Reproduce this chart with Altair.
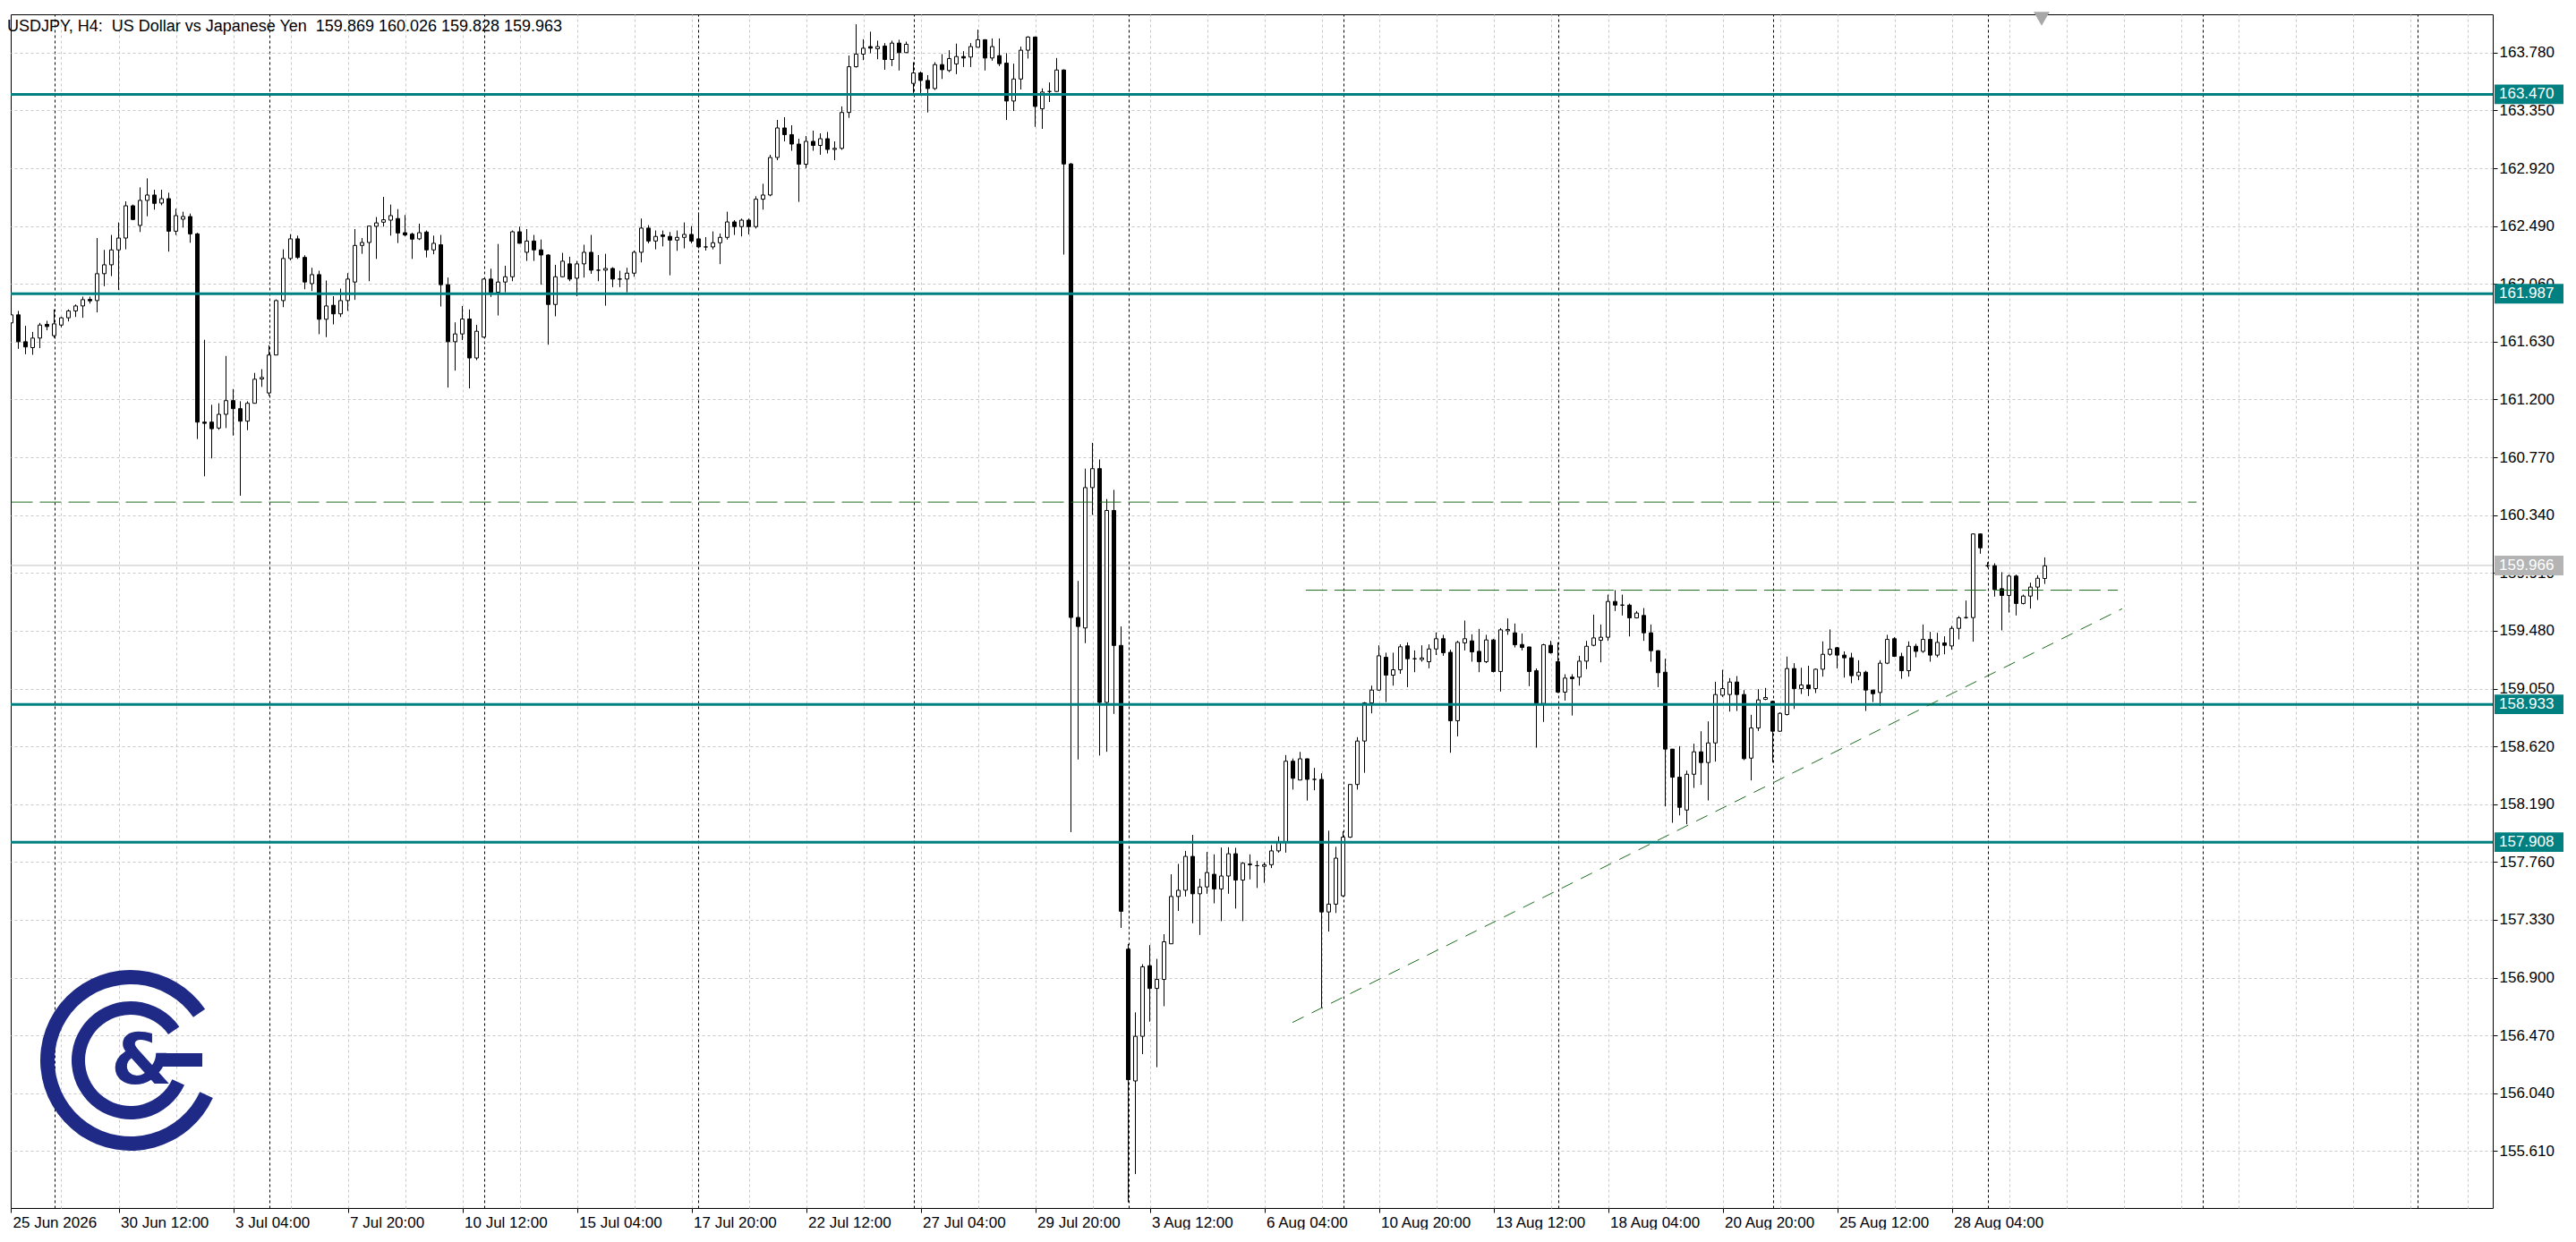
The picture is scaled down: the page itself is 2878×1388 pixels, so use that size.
import json
import altair as alt
import pandas as pd

# ---------------- data ----------------
opens = [161.770,161.770,161.830,161.630,161.586,161.657,161.759,161.675,161.754,161.808,
161.859,161.896,161.945,161.936,162.136,162.202,162.313,162.401,162.641,162.495,
162.681,162.721,162.661,162.694,162.452,162.541,162.561,162.432,161.032,161.032,
160.988,161.090,161.192,161.132,161.039,161.172,161.353,161.249,161.531,161.936,
162.249,162.395,162.257,162.062,162.129,161.797,161.901,161.837,161.936,162.074,
162.346,162.368,162.488,162.519,162.534,162.546,162.441,162.430,162.395,162.446,
162.313,162.351,162.054,161.630,161.688,161.799,161.509,161.664,162.096,161.998,
162.074,162.113,162.448,162.295,162.379,162.313,162.275,161.907,162.113,162.209,
162.102,162.209,162.295,162.162,162.162,162.175,162.096,162.096,162.140,162.295,
162.475,162.379,162.424,162.413,162.386,162.406,162.428,162.395,162.335,162.335,
162.366,162.406,162.521,162.486,162.534,162.486,162.690,162.721,163.000,163.220,
163.170,163.100,162.950,163.120,163.090,163.140,163.060,163.068,163.335,163.675,
163.769,163.825,163.809,163.829,163.729,163.851,163.780,163.551,163.629,163.573,
163.513,163.691,163.647,163.696,163.751,163.747,163.820,163.876,163.740,163.758,
163.702,163.420,163.584,163.798,163.896,163.362,163.491,163.491,163.651,162.952,
159.579,159.501,160.545,160.686,158.947,160.375,159.371,157.112,156.132,156.464,
156.989,156.820,156.887,157.152,157.504,157.550,157.802,157.524,157.575,157.669,
157.560,157.656,157.822,157.626,157.745,157.733,157.728,157.740,157.843,157.911,
158.510,158.370,158.528,158.375,158.375,157.389,157.447,157.509,157.945,158.337,
158.660,158.944,159.039,159.283,159.150,159.190,159.368,159.272,159.266,159.250,
159.345,159.421,159.320,158.811,159.390,159.405,159.327,159.250,159.412,159.177,
159.480,159.465,159.378,159.360,159.183,158.939,159.372,159.250,159.024,159.135,
159.135,159.254,159.372,159.410,159.432,159.698,159.671,159.671,159.576,159.594,
159.465,159.332,159.172,158.600,158.391,158.147,158.413,158.580,158.500,158.646,
159.001,159.006,159.099,159.006,158.533,158.757,158.970,158.955,158.733,158.857,
159.199,159.050,159.077,159.050,159.194,159.305,159.354,159.299,159.279,159.146,
159.172,159.039,159.021,159.239,159.421,159.288,159.183,159.365,159.327,159.416,
159.299,159.390,159.367,159.498,159.578,159.578,160.200,159.964,159.964,159.793,
159.743,159.887,159.683,159.738,159.805,159.869]

highs = [161.803,161.852,161.859,161.748,161.703,161.770,161.786,161.870,161.814,161.870,
161.907,161.965,161.965,162.401,162.313,162.424,162.517,162.674,162.650,162.778,
162.845,162.760,162.760,162.738,162.619,162.597,162.583,162.440,161.644,161.161,
161.172,161.524,161.278,161.187,161.187,161.398,161.426,161.604,161.945,162.317,
162.430,162.419,162.273,162.180,162.158,162.085,161.969,162.025,162.140,162.468,
162.401,162.490,162.557,162.707,162.650,162.616,162.572,162.441,162.508,162.457,
162.419,162.424,162.107,161.774,161.896,161.870,161.755,162.102,162.173,162.357,
162.195,162.457,162.486,162.468,162.424,162.390,162.280,162.202,162.291,162.262,
162.231,162.351,162.424,162.275,162.284,162.184,162.158,162.180,162.308,162.546,
162.497,162.457,162.457,162.446,162.457,162.517,162.490,162.590,162.408,162.450,
162.435,162.597,162.534,162.546,162.546,162.712,162.805,163.020,163.280,163.300,
163.240,163.140,163.160,163.200,163.180,163.190,163.120,163.380,163.758,163.991,
163.880,163.936,163.869,163.851,163.869,163.876,163.862,163.709,163.640,163.613,
163.709,163.769,163.798,163.847,163.791,163.851,163.951,163.880,163.885,163.885,
163.776,163.698,163.825,163.902,163.900,163.514,163.558,163.740,163.655,162.960,
159.851,160.686,160.878,160.754,160.460,160.528,159.512,157.150,156.642,157.000,
157.142,157.040,157.223,157.669,157.746,157.843,157.962,157.636,157.835,157.817,
157.868,157.870,157.866,157.760,157.817,157.770,157.758,157.886,157.950,158.556,
158.530,158.579,158.530,158.460,158.420,157.993,157.873,157.988,158.340,158.689,
158.950,159.072,159.372,159.317,159.317,159.379,159.394,159.334,159.372,159.379,
159.467,159.450,159.339,159.405,159.556,159.454,159.494,159.450,159.420,159.500,
159.572,159.534,159.460,159.360,159.200,159.383,159.405,159.394,159.157,159.157,
159.294,159.405,159.600,159.527,159.749,159.782,159.749,159.682,159.627,159.649,
159.527,159.335,159.272,158.600,158.622,158.440,158.640,158.733,158.806,159.101,
159.190,159.128,159.143,159.039,158.855,159.046,159.055,158.960,158.873,159.288,
159.239,159.205,159.220,159.200,159.401,159.490,159.360,159.327,159.316,159.261,
159.183,159.040,159.261,159.450,159.432,159.316,159.401,159.383,159.527,159.472,
159.465,159.439,159.516,159.589,159.705,160.204,160.204,159.990,159.982,159.916,
159.898,159.898,159.749,159.838,159.893,160.026]

lows = [161.748,161.670,161.577,161.537,161.533,161.582,161.715,161.659,161.737,161.781,
161.814,161.808,161.914,161.848,162.043,162.118,162.014,162.317,162.534,162.446,
162.563,162.612,162.645,162.300,162.424,162.479,162.366,160.906,160.629,160.762,
160.975,160.988,160.932,160.485,160.972,161.170,161.294,161.227,161.530,161.887,
162.235,162.246,162.020,162.007,161.686,161.664,161.759,161.814,161.859,161.941,
162.284,162.080,162.246,162.486,162.419,162.364,162.413,162.246,162.386,162.257,
162.280,161.892,161.289,161.415,161.642,161.283,161.493,161.660,161.963,161.825,
161.998,162.080,162.360,162.231,162.231,162.054,161.608,161.819,162.110,162.080,
161.969,162.107,162.135,162.080,161.898,162.036,162.036,161.998,162.113,162.220,
162.362,162.317,162.339,162.124,162.306,162.324,162.362,162.324,162.308,162.317,
162.207,162.390,162.424,162.413,162.428,162.472,162.612,162.712,162.980,163.120,
163.050,162.670,162.920,163.050,163.020,163.030,162.980,163.057,163.295,163.669,
163.724,163.776,163.731,163.653,163.680,163.647,163.778,163.480,163.480,163.335,
163.502,163.584,163.635,163.620,163.673,163.673,163.818,163.647,163.720,163.680,
163.279,163.346,163.506,163.736,163.228,163.213,163.413,163.488,162.278,157.983,
158.523,159.388,160.342,158.552,158.580,158.862,157.270,155.230,155.439,156.331,
156.573,156.234,156.688,157.150,157.396,157.504,157.305,157.218,157.524,157.453,
157.320,157.524,157.414,157.320,157.631,157.567,157.605,157.715,157.830,157.830,
158.299,158.370,158.217,158.294,156.675,157.243,157.381,157.500,157.940,158.299,
158.424,158.866,159.035,158.950,159.072,159.160,159.061,159.172,159.250,159.201,
159.300,159.294,158.573,158.695,159.334,159.250,159.172,159.240,159.170,159.028,
159.450,159.356,159.334,159.068,158.611,158.802,159.310,159.017,158.961,158.850,
159.072,159.195,159.365,159.245,159.405,159.627,159.594,159.438,159.572,159.405,
159.250,159.061,158.174,158.052,158.107,158.041,158.311,158.334,158.218,158.507,
158.988,158.879,158.884,158.518,158.367,158.735,158.965,158.500,158.728,158.850,
158.899,159.010,158.995,159.017,159.139,159.294,159.200,159.132,159.090,159.112,
158.884,158.950,158.921,159.232,159.285,159.123,159.139,159.283,159.316,159.250,
159.283,159.305,159.339,159.416,159.570,159.399,160.053,159.950,159.734,159.483,
159.616,159.594,159.676,159.645,159.709,159.828]

closes = [161.775,161.830,161.630,161.591,161.657,161.754,161.743,161.763,161.808,161.859,
161.896,161.943,161.934,162.136,162.202,162.313,162.401,162.641,162.539,162.681,
162.721,162.659,162.694,162.452,162.568,162.561,162.432,161.032,161.023,160.983,
161.090,161.192,161.132,161.039,161.172,161.351,161.364,161.531,161.936,162.249,
162.395,162.257,162.074,162.129,161.797,161.896,161.837,161.936,162.096,162.346,
162.368,162.490,162.514,162.537,162.568,162.439,162.424,162.393,162.441,162.313,
162.362,162.054,161.630,161.688,161.799,161.509,161.708,162.096,161.998,162.074,
162.113,162.448,162.362,162.379,162.313,162.275,161.907,162.113,162.229,162.096,
162.209,162.295,162.162,162.162,162.175,162.096,162.096,162.140,162.295,162.475,
162.379,162.413,162.413,162.386,162.406,162.428,162.379,162.335,162.335,162.366,
162.406,162.521,162.486,162.534,162.486,162.690,162.721,163.000,163.220,163.170,
163.100,162.950,163.120,163.090,163.140,163.060,163.068,163.335,163.675,163.769,
163.813,163.813,163.825,163.729,163.851,163.780,163.842,163.629,163.573,163.513,
163.691,163.653,163.736,163.751,163.740,163.825,163.876,163.740,163.825,163.698,
163.420,163.584,163.798,163.896,163.380,163.487,163.491,163.651,162.952,159.579,
159.512,160.545,160.686,158.947,160.375,159.371,157.394,156.141,156.464,156.981,
156.820,156.887,157.167,157.504,157.550,157.802,157.524,157.575,157.682,157.560,
157.656,157.822,157.626,157.751,157.740,157.733,157.740,157.843,157.911,158.510,
158.383,158.528,158.375,158.375,157.389,157.447,157.789,157.945,158.337,158.660,
158.944,159.039,159.294,159.150,159.190,159.361,159.272,159.272,159.278,159.345,
159.421,159.317,158.811,159.394,159.421,159.323,159.250,159.412,159.177,159.487,
159.490,159.376,159.356,159.177,158.939,159.376,159.317,159.024,159.128,159.124,
159.254,159.365,159.427,159.432,159.698,159.671,159.671,159.576,159.612,159.465,
159.332,159.168,158.600,158.391,158.167,158.413,158.580,158.500,158.646,159.006,
159.050,159.099,159.006,158.529,158.757,158.966,158.984,158.733,158.866,159.199,
159.050,159.077,159.050,159.194,159.305,159.343,159.299,159.279,159.146,159.172,
159.039,159.012,159.239,159.416,159.290,159.183,159.365,159.327,159.416,159.299,
159.394,159.372,159.498,159.576,159.578,160.200,160.097,159.964,159.787,159.743,
159.887,159.683,159.738,159.805,159.871,159.963]

x_labels = ["25 Jun 2026", "30 Jun 12:00", "3 Jul 04:00", "7 Jul 20:00", "10 Jul 12:00",
            "15 Jul 04:00", "17 Jul 20:00", "22 Jul 12:00", "27 Jul 04:00", "29 Jul 20:00",
            "3 Aug 12:00", "6 Aug 04:00", "10 Aug 20:00", "13 Aug 12:00", "18 Aug 04:00",
            "20 Aug 20:00", "25 Aug 12:00", "28 Aug 04:00"]
y_ticks = [155.61, 156.04, 156.47, 156.90, 157.33, 157.76, 158.19, 158.62, 159.05, 159.48,
           159.91, 160.34, 160.77, 161.20, 161.63, 162.06, 162.49, 162.92, 163.35, 163.78]
week_starts = [7, 37, 67, 97, 127, 157, 187, 217, 247, 277, 307, 337]
levels = [163.470, 161.987, 158.933, 157.908]
current_price = 159.966
hline_start = [1.0, 181.8]
hline_end = [306.2, 295.2]
hline_price = [160.437, 159.782]
trend_start = [179.94, 156.567]
trend_end = [295.8, 159.644]
header = "USDJPY, H4:\u00a0\u00a0US Dollar vs Japanese Yen\u00a0\u00a0159.869 160.026 159.828 159.963"

# ---------------- tables ----------------
n = len(opens)
df = pd.DataFrame({"i": list(range(n)), "o": opens, "h": highs, "l": lows, "c": closes})
df["dir"] = ["up" if c >= o else "down" for o, c in zip(opens, closes)]

lvl = pd.DataFrame({"v": levels, "t": [f"{v:.3f}" for v in levels]})
cur = pd.DataFrame({"v": [current_price], "t": [f"{current_price:.3f}"]})
hl = pd.DataFrame({"x": hline_start, "x2": hline_end, "y": hline_price, "y2": hline_price})
tr = pd.DataFrame({"x": [trend_start[0]], "x2": [trend_end[0]],
                   "y": [trend_start[1]], "y2": [trend_end[1]]})
one = pd.DataFrame({"k": [1]})

# ---------------- styling ----------------
W, H = 2773, 1334
FONT = "Liberation Sans"
FS = 17
TEAL = "#008080"
GREEN = "#1f6b1f"
GRID = "#c8c8c8"
NAVY = "#1f2a86"

xs = alt.Scale(domain=[0.9375, 347.5625], nice=False, zero=False)
ys = alt.Scale(domain=[155.187, 164.065], nice=False, zero=False)

yaxis = alt.Axis(orient="right", values=y_ticks, format=".3f", grid=True, gridColor=GRID,
                 gridDash=[3, 3], gridWidth=1, domain=False, ticks=True, tickColor="black",
                 tickSize=5, labelPadding=2, labelFont=FONT, labelFontSize=FS,
                 labelColor="black", title=None, labelOverlap=False, labelFlush=False)

ax_grid = alt.Axis(orient="top", values=list(range(8, 345, 8)), grid=True, gridColor=GRID,
                   gridDash=[3, 3], gridWidth=1, labels=False, ticks=False, domain=False,
                   title=None)
ax_week = alt.Axis(orient="top", values=week_starts, grid=True, gridColor="black",
                   gridDash=[3, 3], gridWidth=1, labels=False, ticks=False, domain=False,
                   title=None)
label_expr = json.dumps(x_labels) + "[round(datum.value/16)]"
ax_lab = alt.Axis(orient="bottom", values=[0.9375] + [16 * k for k in range(1, len(x_labels))],
                  labelExpr=label_expr, labelAlign="left", labelBaseline="top",
                  labelOffset=2, labelPadding=3, tickSize=5, tickColor="black",
                  grid=False, domain=False, labelFont=FONT, labelFontSize=FS,
                  labelColor="black", title=None, labelOverlap=False, labelFlush=False)


def Y(field):
    return alt.Y(field, type="quantitative", scale=ys, axis=yaxis)


# ---------------- layers ----------------
cur_line = alt.Chart(cur).mark_rule(color="#c0c0c0", strokeWidth=1).encode(y=Y("v:Q"))

wicks = alt.Chart(df).mark_rule(color="black", strokeWidth=1, clip=True).encode(
    x=alt.X("i:Q", scale=xs, axis=ax_lab),
    y=Y("l:Q"), y2="h:Q")

bodies = alt.Chart(df).transform_calculate(
    x0="datum.i - 0.25", x1="datum.i + 0.25"
).mark_rect(stroke="black", strokeWidth=1, clip=True).encode(
    x=alt.X("x0:Q", scale=xs, axis=ax_grid),
    x2="x1:Q",
    y=Y("o:Q"), y2="c:Q",
    fill=alt.Fill("dir:N", scale=alt.Scale(domain=["up", "down"], range=["white", "black"]),
                  legend=None))

level_lines = alt.Chart(lvl).mark_rule(color=TEAL, strokeWidth=3).encode(y=Y("v:Q"))

hlines = alt.Chart(hl).mark_rule(color=GREEN, strokeWidth=1, strokeDash=[24, 8], clip=True).encode(
    x=alt.X("x:Q", scale=xs, axis=ax_week), x2="x2:Q",
    y=Y("y:Q"), y2="y2:Q")

trend = alt.Chart(tr).mark_rule(color=GREEN, strokeWidth=1, strokeDash=[14, 10], clip=True).encode(
    x=alt.X("x:Q", scale=xs, axis=None), x2="x2:Q",
    y=Y("y:Q"), y2="y2:Q")


def label_box(frame, fill):
    box = alt.Chart(frame).transform_calculate(
        top="datum.v + 0.073", bot="datum.v - 0.073"
    ).mark_rect(color=fill).encode(
        x=alt.value(W + 2), x2=alt.value(W + 79), y=Y("top:Q"), y2="bot:Q")
    txt = alt.Chart(frame).mark_text(align="left", baseline="middle", font=FONT,
                                     fontSize=FS, color="white").encode(
        x=alt.value(W + 7), y=Y("v:Q"), text="t:N")
    return [box, txt]


title = alt.Chart(pd.DataFrame({"t": [header]})).mark_text(
    align="left", baseline="middle", font=FONT, fontSize=18, color="black").encode(
    x=alt.value(-4), y=alt.value(14), text="t:N")

shift_marker = alt.Chart(one).mark_point(
    shape="triangle-down", filled=True, color="#a8a8a8", size=320, opacity=1).encode(
    x=alt.value(2269), y=alt.value(5))

# logo (decoration)
logo_layers = [
    alt.Chart(one).mark_arc(radius=101, radius2=85, theta=2.0, theta2=7.25,
                            color=NAVY).encode(x=alt.value(134), y=alt.value(1169)),
    alt.Chart(one).mark_arc(radius=66, radius2=51, theta=2.0, theta2=7.25,
                            color=NAVY).encode(x=alt.value(134), y=alt.value(1169)),
    alt.Chart(one).mark_rect(color=NAVY).encode(
        x=alt.value(170), x2=alt.value(214), y=alt.value(1161), y2=alt.value(1176)),
    alt.Chart(one).mark_text(text="&", font="DejaVu Sans", fontSize=78,
                             fontWeight="bold", color=NAVY, baseline="middle").encode(
        x=alt.value(146), y=alt.value(1172)),
]

chart = alt.layer(
    cur_line, wicks, bodies, level_lines, hlines, trend,
    *label_box(lvl, TEAL), *label_box(cur, "#b4b4b4"),
    title, shift_marker, *logo_layers
).resolve_axis(x="independent").properties(
    width=W, height=H,
    padding={"left": 0, "top": 5, "right": 0, "bottom": 0},
    background="white",
).configure_view(stroke="black", strokeWidth=1)

chart.save("out.html", embed_options={"renderer": "svg", "actions": False})
